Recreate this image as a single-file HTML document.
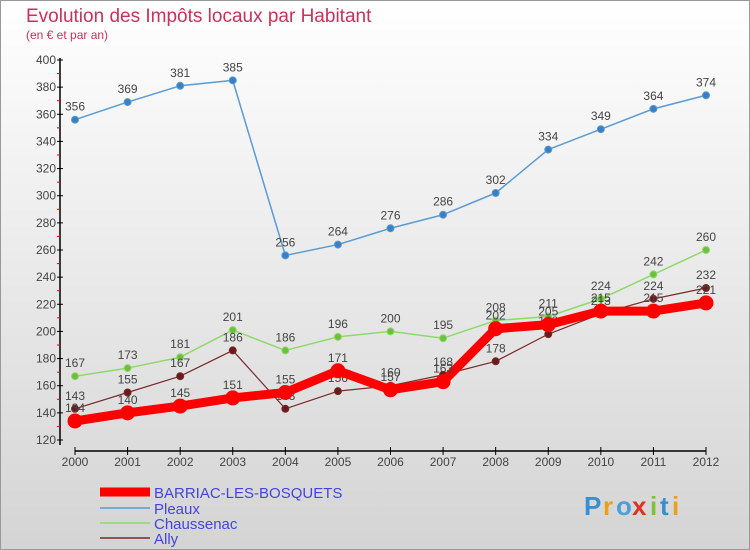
<!DOCTYPE html>
<html><head><meta charset="utf-8"><style>
body{margin:0;width:750px;height:550px;overflow:hidden;font-family:"Liberation Sans",sans-serif}
svg{display:block}
</style></head><body>
<svg width="750" height="550" xmlns="http://www.w3.org/2000/svg">
<defs><linearGradient id="bg" x1="0" y1="0" x2="0" y2="1"><stop offset="0" stop-color="#ffffff"/><stop offset="1" stop-color="#d4d4d4"/></linearGradient></defs>
<rect x="0.5" y="0.5" width="749" height="549" fill="url(#bg)" stroke="#999"/>
<text x="26" y="22" font-size="19" fill="#c8325a">Evolution des Impôts locaux par Habitant</text>
<text x="26" y="39" font-size="12" fill="#c8325a">(en € et par an)</text>
<g id="axes"></g><g id="series"></g>
<g>
<line x1="100" y1="492" x2="150" y2="492" stroke="#ff0000" stroke-width="9"/>
<text x="154" y="498" font-size="15" fill="#4444dd">BARRIAC-LES-BOSQUETS</text>
<line x1="100" y1="508" x2="150" y2="508" stroke="#5a9bd5" stroke-width="1.5"/>
<text x="154" y="514" font-size="15" fill="#4444dd">Pleaux</text>
<line x1="100" y1="523" x2="150" y2="523" stroke="#8fd96a" stroke-width="1.5"/>
<text x="154" y="529" font-size="15" fill="#4444dd">Chaussenac</text>
<line x1="100" y1="538" x2="150" y2="538" stroke="#7a2a2a" stroke-width="1.5"/>
<text x="154" y="544" font-size="15" fill="#4444dd">Ally</text>
</g>
<g font-size="26" font-weight="bold">
<text x="584" y="515" fill="#3a8fd0">P</text><text x="603" y="515" fill="#e8a020">r</text><text x="616" y="515" fill="#4aa0d8">o</text><text x="632" y="515" fill="#e03020">x</text><text x="650" y="515" fill="#80c040">i</text><text x="660" y="515" fill="#3a8fd0">t</text><text x="672" y="515" fill="#e8a020">i</text>
</g>
</svg>
<script>
const years=[2000,2001,2002,2003,2004,2005,2006,2007,2008,2009,2010,2011,2012];
const pleaux=[356,369,381,385,256,264,276,286,302,334,349,364,374];
const chaussenac=[167,173,181,201,186,196,200,195,208,211,224,242,260];
const ally=[143,155,167,186,143,156,160,168,178,198,213,224,232];
const barriac=[134,140,145,151,155,171,157,163,202,205,215,215,221];
const yTicks=[120,140,160,180,200,220,240,260,280,300,320,340,360,380,400];
const NS="http://www.w3.org/2000/svg";
function X(i){return 75+i*(706-75)/(years.length-1);}
function Y(v){return 440-(v-120)*380/280;}
function mk(t,a,p){const e=document.createElementNS(NS,t);for(const k in a)e.setAttribute(k,a[k]);p.appendChild(e);return e;}
const ax=document.getElementById('axes');
let l=mk('line',{x1:60,y1:58,x2:60,y2:445,stroke:'#000','stroke-width':1.5},ax);


l=mk('line',{x1:75,y1:451,x2:706,y2:451,stroke:'#000','stroke-width':1.5},ax);


yTicks.forEach((v,k)=>{
 mk('line',{x1:57,y1:Y(v),x2:63,y2:Y(v),stroke:'#000'},ax);
 if(k<yTicks.length-1)mk('line',{x1:57,y1:Y(v+10),x2:60,y2:Y(v+10),stroke:'#e00'},ax);
 const t=mk('text',{x:56,y:Y(v)+4,'font-size':12,'text-anchor':'end',fill:'#444'},ax);t.textContent=v;
 
 
});
years.forEach((y,i)=>{
 mk('line',{x1:X(i),y1:447,x2:X(i),y2:455,stroke:'#000'},ax);
 const t=mk('text',{x:X(i),y:466,'font-size':12,'text-anchor':'middle',fill:'#444'},ax);t.textContent=y;
 
 
});
const sg=document.getElementById('series');
function series(name,data,color,w,r,dot){
 const g=mk('g',{},sg);
 
 
 const pl=mk('polyline',{points:data.map((v,i)=>X(i)+','+Y(v)).join(' '),fill:'none',stroke:color,'stroke-width':w,'stroke-linejoin':'round'},g);
 
 
 data.forEach((v,i)=>{
  const c=mk('circle',{cx:X(i),cy:Y(v),r:r,fill:dot,stroke:color,'stroke-width':1},g);
  
  
  const t=mk('text',{x:X(i),y:Y(v)-9,'font-size':12,'text-anchor':'middle',fill:'#444'},g);t.textContent=v;
  
  
 });
}
series('pleaux',pleaux,'#5a9bd5',1.5,3.5,'#3a7fc0');
series('chaussenac',chaussenac,'#8fd96a',1.5,3.5,'#6cc040');
series('ally',ally,'#7a2a2a',1.2,3.5,'#6a1a1a');
series('barriac',barriac,'#ff0000',9,7,'#ff0000');
</script>
</body></html>
